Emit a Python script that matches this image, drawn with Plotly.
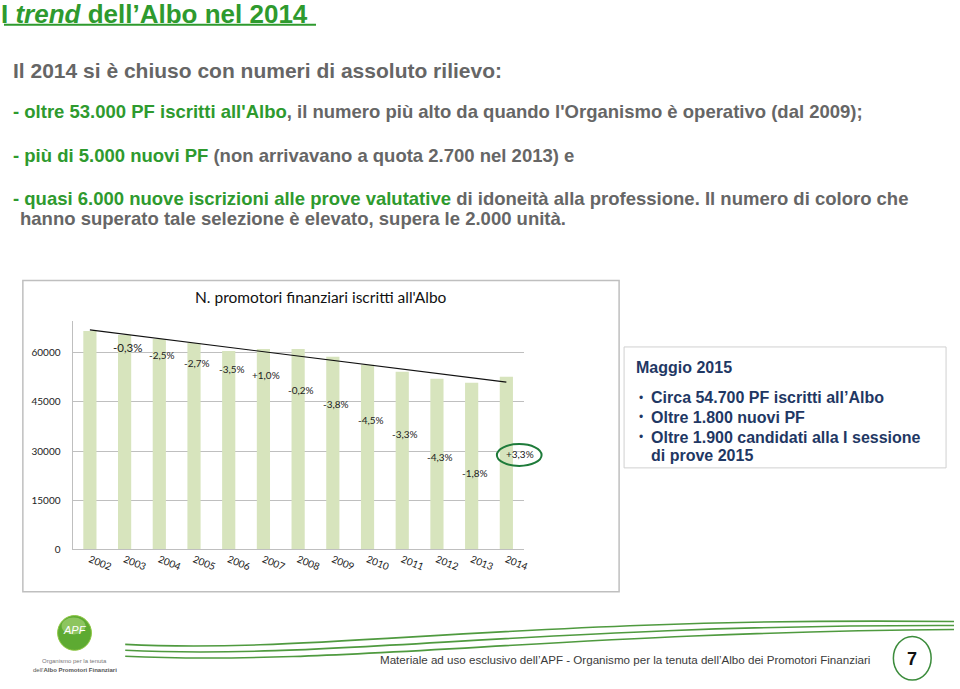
import numpy as np
import plotly.graph_objects as go

# ---------------- data ----------------
years = ["2002", "2003", "2004", "2005", "2006", "2007", "2008",
         "2009", "2010", "2011", "2012", "2013", "2014"]
iscritti = [66700, 65450, 64250, 63050, 60600, 61200, 61200,
            58800, 56350, 54250, 52100, 50900, 52700]
var_years = years[1:]
var_labels = ["-0,3%", "-2,5%", "-2,7%", "-3,5%", "+1,0%", "-0,2%",
              "-3,8%", "-4,5%", "-3,3%", "-4,3%", "-1,8%", "+3,3%"]
y_ticks = [0, 15000, 30000, 45000, 60000]

# label heights (layout placement of the percentage labels, data units)
label_heights = [61500, 59400, 57000, 55150, 53300, 48800,
                 44250, 39400, 35150, 28200, 23350, 29100]

W, H = 960, 689
GREEN = "#2E9A2E"
GRAY = "#666666"
NAVY = "#1F3864"


def PX(x):
    return x / W


def PY(y):
    return 1 - y / H


# trend line (linear fit of the series)
xi = np.arange(len(years))
slope, intercept = np.polyfit(xi, iscritti, 1)
trend = [intercept + slope * xi[0], intercept + slope * xi[-1]]

fig = go.Figure()
fig.add_trace(go.Bar(x=years, y=iscritti, marker_color="#D7E4BD",
                     marker_line_width=0, hoverinfo="skip", showlegend=False))
fig.add_trace(go.Scatter(x=[years[0], years[-1]], y=trend, mode="lines",
                         line=dict(color="#111111", width=1.2),
                         hoverinfo="skip", showlegend=False))

# plot area in pixel terms
px_left, px_right, px_zero, px_top = 73, 527, 554, 324
ymax = (px_zero - px_top) / 49.5 * 15000

fig.update_layout(
    autosize=True, margin=dict(l=0, r=0, t=0, b=0),
    paper_bgcolor="white", plot_bgcolor="rgba(0,0,0,0)",
    bargap=0.62,
    xaxis=dict(type="category", domain=[PX(px_left), PX(px_right)], tickangle=22,
               range=[-0.5, len(years) - 0.5],
               showline=True, linecolor="#BFBFBF", linewidth=1,
               tickfont=dict(family="Lato", size=10, color="#222"),
               showgrid=False, fixedrange=True),
    yaxis=dict(domain=[PY(px_zero), PY(px_top)], range=[0, ymax],
               tickvals=y_ticks, ticktext=[str(v) for v in y_ticks],
               showgrid=True, gridcolor="#BFBFBF", gridwidth=1,
               showline=True, linecolor="#BFBFBF", zeroline=False,
               ticklabelstandoff=9,
               tickfont=dict(family="Lato", size=10, color="#222"), fixedrange=True),
)

shapes = []
annots = []


def txt(x, y, text, size, color="#000", family="Liberation Sans", xanchor="left", **kw):
    annots.append(dict(x=PX(x), y=PY(y), xref="paper", yref="paper", text=text,
                       showarrow=False, xanchor=xanchor, yanchor="middle",
                       font=dict(family=family, size=size, color=color), **kw))


def rect(kind, x0, x1, y0, y1, **kw):
    shapes.append(dict(type=kind, xref="paper", yref="paper",
                       x0=PX(x0), x1=PX(x1), y0=PY(y0), y1=PY(y1), **kw))


def bez(pts, **kw):
    (a, b), (c, d), (e, f), (g, h) = pts
    path = (f"M {PX(a):.5f},{PY(b):.5f} C {PX(c):.5f},{PY(d):.5f} "
            f"{PX(e):.5f},{PY(f):.5f} {PX(g):.5f},{PY(h):.5f}")
    shapes.append(dict(type="path", xref="paper", yref="paper", path=path, **kw))


# ---- header text ----
txt(-1, 14, "<b>I <i>trend</i> dell\u2019Albo nel 2014</b>", 26, GREEN)
rect("line", 4, 318, 25, 25, line=dict(color=GREEN, width=2))
txt(11, 71, "<b>Il 2014 si è chiuso con numeri di assoluto rilievo:</b>", 21, GRAY)
txt(11, 112, f"<b><span style='color:{GREEN}'>- oltre 53.000 PF iscritti all'Albo</span>, "
             "il numero più alto da quando l'Organismo è operativo (dal 2009);</b>", 18.5, GRAY)
txt(11, 157, f"<b><span style='color:{GREEN}'>- più di 5.000 nuovi PF</span> "
             "(non arrivavano a quota 2.700 nel 2013) e</b>", 18.5, GRAY)
txt(11, 200, f"<b><span style='color:{GREEN}'>- quasi 6.000 nuove iscrizioni alle prove valutative</span> "
             "di idoneità alla professione. Il numero di coloro che</b>", 18.5, GRAY)
txt(18, 220, "<b>hanno superato tale selezione è elevato, supera le 2.000 unità.</b>", 18.5, GRAY)

# ---- chart frame and title ----
rect("rect", 23, 623, 283, 597, line=dict(color="#BFBFBF", width=1.5), layer="below")
txt(323, 300, "N. promotori finanziari iscritti all'Albo", 15.5, "#111", family="Lato",
    xanchor="center")

# percentage labels (category axis annotations use category indices)
for i, (yr, lab, h) in enumerate(zip(var_years, var_labels, label_heights)):
    annots.append(dict(x=years.index(yr), y=h, xref="x", yref="y", text=lab,
                       showarrow=False, xshift=(14 if yr == "2014" else 3),
                       font=dict(family="Lato", size=(11.5 if i == 0 else 10), color="#222")))
# highlight ellipse
rect("circle", 500, 545, 448, 470, line=dict(color="#1E7B3A", width=2))

# ---- right box ----
rect("rect", 628, 952, 350, 472, line=dict(color="#D0D0D0", width=1))
txt(638, 371, "<b>Maggio 2015</b>", 16, NAVY)
bullets = ["Circa 54.700 PF iscritti all\u2019Albo", "Oltre 1.800 nuovi PF",
           "Oltre 1.900 candidati alla I sessione"]
for k, b in enumerate(bullets):
    yy = [401, 421, 441][k]
    txt(641, yy, "\u2022", 12, NAVY)
    txt(653, yy, f"<b>{b}</b>", 16, NAVY)
txt(653, 460, "<b>di prove 2015</b>", 16, NAVY)

# ---- footer ----
bez([(126, 650), (320, 660), (520, 622), (960, 627)], line=dict(color="#4F9A3F", width=1.6))
bez([(126, 656), (330, 666), (540, 630), (960, 631)], line=dict(color="#4F9A3F", width=1.6))
bez([(126, 662), (340, 672), (560, 638), (960, 635)], line=dict(color="#4F9A3F", width=1.6))
rect("circle", 58, 92, 621, 656, fillcolor="#5DAA32", line=dict(color="#8CC63F", width=1))
rect("circle", 62, 86, 623, 640, fillcolor="rgba(200,230,150,0.45)", line=dict(width=0))
txt(75, 636, "<i>APF</i>", 11, "white", xanchor="center")
txt(75, 667, "Organismo per la tenuta", 6, "#777", xanchor="center")
txt(75, 676, "dell'<b>Albo Promotori Finanziari</b>", 6, "#555", xanchor="center")
txt(877, 665, "Materiale ad uso esclusivo dell\u2019APF - Organismo per la tenuta dell\u2019Albo dei Promotori Finanziari",
    11.6, "#3A3A3A", xanchor="right")
rect("circle", 899, 937, 642, 686, line=dict(color="#3C8C3C", width=1.5))
txt(918, 665, "<b>7</b>", 18, "#111", xanchor="center")

fig.update_layout(shapes=shapes, annotations=annots)
fig.write_html("out.html", config={"displayModeBar": False, "responsive": True},
               default_width="100vw", default_height="100vh",
               post_script=("document.body.style.margin='0';"
                            "document.body.style.overflow='hidden';"
                            "document.documentElement.style.overflow='hidden';"
                            "Plotly.Plots.resize(document.getElementsByClassName('plotly-graph-div')[0]);"))
